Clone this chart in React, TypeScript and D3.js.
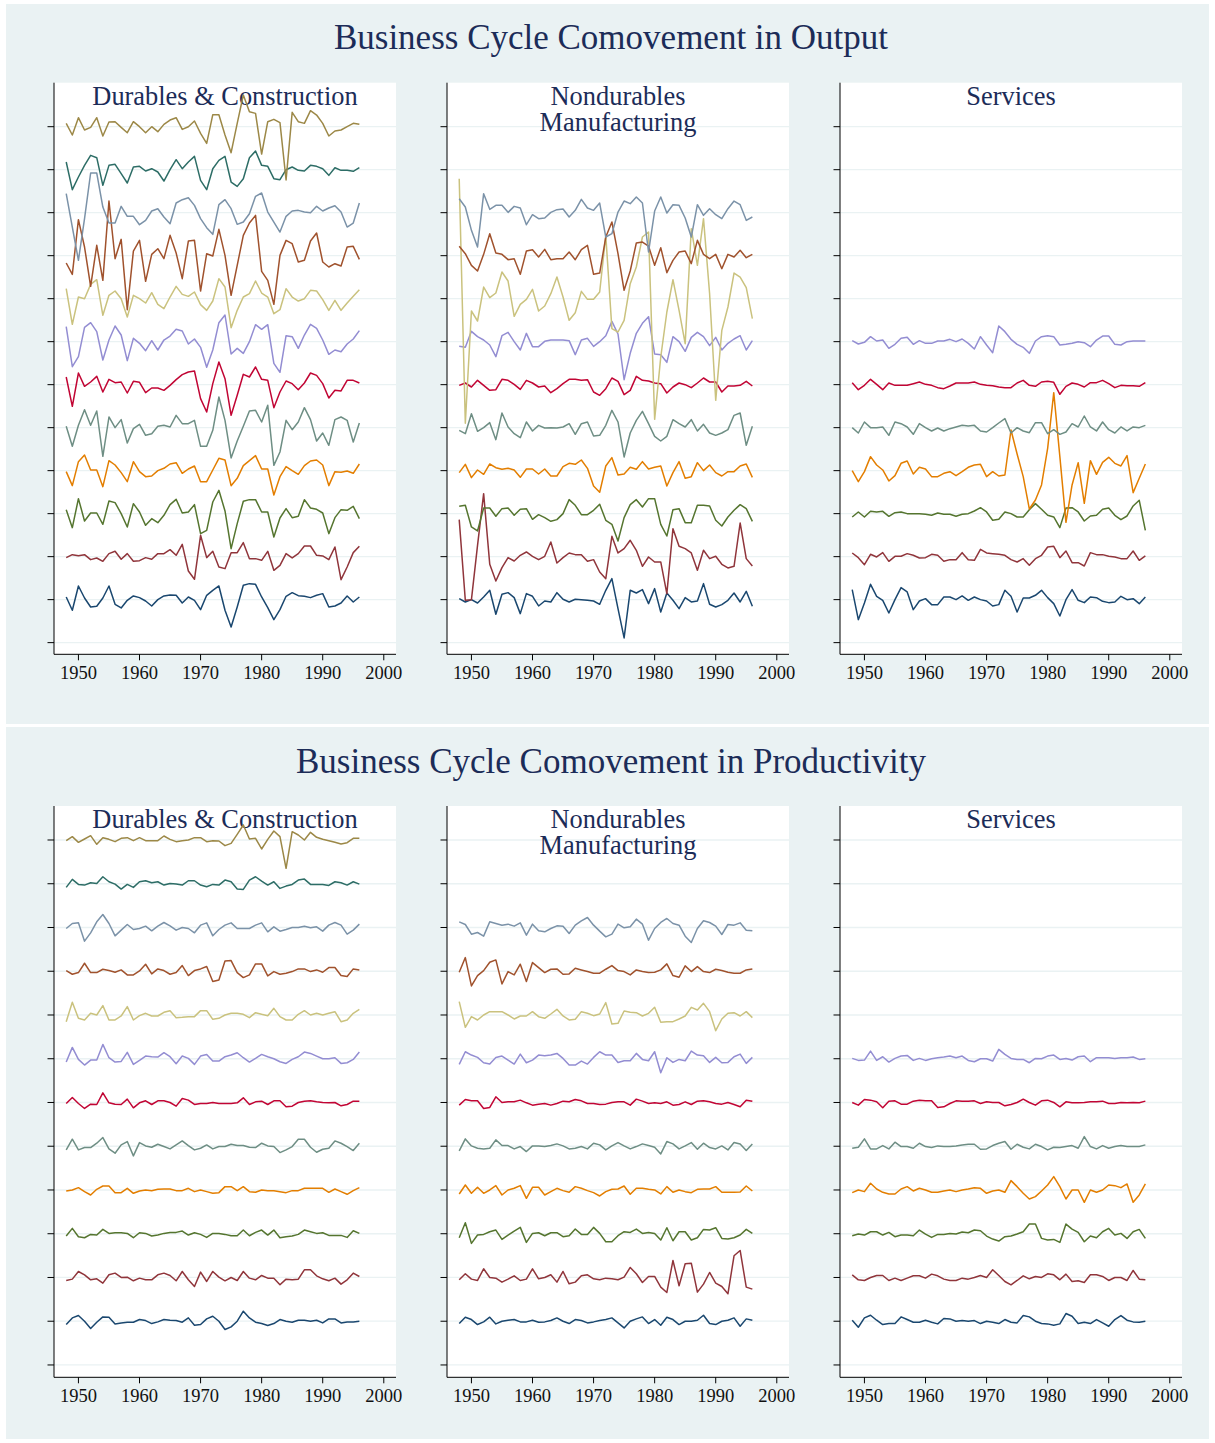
import React from 'react';
import * as d3 from 'd3';

// ---------- categories / labels ----------
const years: number[] = d3.range(1948, 1997);
const xTickValues = [1950, 1960, 1970, 1980, 1990, 2000];
const seriesColors = [
  '#1a476f', '#90353b', '#55752f', '#e37e00', '#6e8e84', '#c10534',
  '#938dd2', '#cac27e', '#a0522d', '#7b92a8', '#2d6d66', '#9c8847',
];
const panelTitles = ['Business Cycle Comovement in Output', 'Business Cycle Comovement in Productivity'];
const sectorTitleLines = [['Durables & Construction'], ['Nondurables', 'Manufacturing'], ['Services']];

// ---------- data: deviations of each industry series from its own baseline (series 1 = bottom) ----------
const outputDurables: number[][] = [
  [0.8, -3.2, 4.1, 0.5, -2.2, -2.0, 0.5, 4.1, -1.4, -2.5, -0.2, 1.1, 0.6, -0.4, -1.9, 0, 1.1, 1.4, 1.3, -1.0, 0.8, -0.2, -3.0, 1.3, 2.8, 4.1, -3.2, -8.2, -2.2, 4.3, 4.8, 4.6, 0.8, -2.4, -6.0, -3.0, 1.0, 2.1, 1.2, 1.0, 0.6, 1.3, 1.8, -2.2, -1.9, -1.0, 1.1, -0.7, 0.8],
  [-0.3, 0.6, 0.3, 0.6, -0.9, -0.4, -1.4, 0.9, 1.6, -0.8, 0.9, -1.4, -1.2, -0.3, -0.8, 0.9, 0.9, 2.1, 0.4, 3.7, -4.3, -6.8, 6.4, -0.3, 1.6, -3.1, -3.6, 1.2, 1.2, 4.2, -0.6, -0.6, -1.1, 1.6, -4.1, -2.6, 0.9, -0.4, 0.9, 3.2, 3.2, 0.4, 0.2, -0.9, 2.9, -6.9, -3.1, 1.2, 3.1],
  [1.2, -4.2, 4.5, -2.2, 0.2, 0.2, -3.2, 3.8, 3.3, 0, -4.0, 3.0, 0.5, -3.5, -1.5, -2.7, -0.5, 2.7, 4.3, 0.2, 0.5, 2.7, -6.0, -5.0, 3.5, 7.0, 0.8, -10.5, -3.0, 3.7, 4.2, 4.2, 0.5, 0.5, -7.0, -1.3, 1.5, -1.2, -0.8, 4.2, 1.7, 1.3, 0.2, -6.0, -1.2, 1.2, 1.0, 2.2, -1.5],
  [-0.3, -4.5, 2.7, 4.7, 0.2, 0.2, -4.8, 3.0, 1.7, -0.6, -3.3, 2.7, -0.3, -1.8, -1.6, 0, 0.7, 2.0, 2.4, -0.8, 0.5, 1.4, -3.3, -3.3, 0.2, 3.7, 3.2, -4.5, -2.3, 1.5, 3.0, 4.5, 0.5, 0.5, -7.3, -1.8, 1.2, 0, -1.1, 1.5, 2.9, 3.2, 1.7, -4.5, -0.3, -0.5, -0.1, -0.8, 2.0],
  [0.4, -5.6, 0.7, 5.4, 0.7, 5.0, -8.6, 3.2, 0, 2.4, -4.6, -0.3, 1.0, -2.3, -1.8, 0.4, 0.7, 0.2, 3.7, 1.2, 1.2, 2.2, -5.6, -5.6, -0.8, 9.2, 2.2, -9.1, -4.0, 0.4, 5.0, 5.2, 1.7, 6.7, -11.3, -7.3, 2.2, -0.6, 1.7, 6.0, 2.4, -4.0, -1.6, -5.3, 2.4, 3.2, 2.2, -4.3, 1.4],
  [2.3, -6.5, 3.5, -0.5, 0.8, 2.5, -2.2, 1.6, 0.6, 0.8, -2.5, 1.0, 0.7, -2.4, -1.0, -1.0, -1.7, -0.2, 1.5, 3.0, 3.8, 4.1, -4.2, -8.2, 0.3, 6.8, 1.8, -9.2, -3.2, 3.1, 2.3, 5.3, 1.6, 1.3, -6.9, -2.2, 1.1, 0.3, -1.5, 0.5, 3.5, 2.8, 0.3, -4.0, -1.7, -1.9, 1.3, 1.3, 0.5],
  [4.5, -7.5, -4.5, 4.3, 5.7, 3.0, -5.5, 0.5, 4.7, 2.0, -5.7, 1.0, -0.5, -2.7, 0.3, -2.5, 0.5, 1.7, 3.7, 3.2, -0.7, 0.8, -1.7, -7.7, -2.5, 5.7, 8.0, -3.7, -2.0, -3.5, 0, 5.1, 3.7, 5.1, -6.5, -9.2, 1.8, 1.5, -2.0, 2.0, 5.2, 4.0, 0.5, -3.8, -2.5, -3.0, -0.7, 0.8, 3.3],
  [3.0, -7.7, 0.5, 0, 4.3, 5.7, -5.0, 1.0, 2.3, 0, -5.5, 1.0, 0, -1.3, 1.8, -1.7, -3.0, 0.5, 3.7, 1.3, 0.7, 2.0, -1.8, -3.5, -0.7, 6.0, 3.5, -8.7, -3.5, 0.5, 1.5, 5.3, 1.7, 0.5, -4.5, -3.3, 3.0, 0.5, -0.7, 0, 2.5, 2.3, -0.3, -3.5, -0.5, -3.5, -1.3, 0.7, 2.7],
  [-2.2, -5.6, 10.8, 2.6, -9.2, 3.1, -7.4, 16.4, -0.9, 4.9, -16.2, 1.4, 4.6, -7.7, 0.4, 2.1, -0.9, 6.1, 0.8, -6.9, 4.4, 4.6, -10.6, 0.6, -0.1, 7.9, 0.1, -11.9, -2.9, 6.1, 9.8, 12.1, -4.7, -7.4, -14.6, 0.1, 4.6, 3.6, -1.9, -1.4, 4.4, 6.8, -1.9, -3.4, -2.4, -3.1, 2.6, 2.8, -1.1],
  [5.7, -4.3, -14.3, -1.8, 11.9, 11.9, 1.7, -3.1, -3.1, 1.9, -1.1, -1.1, -3.6, -2.3, 0.5, 1.2, -1.3, -3.3, 2.9, 3.9, 4.5, 2.2, -1.8, -4.5, -6.5, 2.4, 3.9, 1.2, -3.5, -2.8, -0.3, 4.9, 5.9, 0.2, -2.8, -5.8, -1.1, 0.5, 0.7, 0.2, 0, 1.9, 0.5, 1.4, 2.1, 0.2, -4.3, -3.1, 2.9],
  [2.3, -6.0, -2.2, 1.3, 4.3, 3.6, -4.7, 1.3, 1.6, -1.2, -4.0, 0.8, 1.0, -0.4, 0.3, -0.7, -3.4, 0, 3.0, 0.3, 2.3, 4.0, -3.2, -6.0, 0.3, 2.8, 4.0, -3.7, -5.0, -2.7, 3.6, 5.6, 1.3, 1.0, -2.7, -3.0, 0, 0.8, -0.2, -0.4, 1.3, 1.0, 0.3, -1.7, 0.6, -0.2, -0.2, -0.5, 0.6],
  [1.0, -2.5, 2.7, -1.0, -0.2, 2.7, -2.8, 1.4, 1.5, -0.2, -1.8, 1.5, 0, -1.8, 0, -1.5, 0.7, 2.0, 2.7, -0.8, 0, 1.7, -2.0, -5.0, 3.6, 3.6, -2.5, -7.8, 1.0, 9.5, 4.5, 4.0, -8.2, 1.5, 2.2, 1.2, -16.0, 4.3, 1.5, 1.0, 4.8, 3.5, 1.0, -2.8, -1.3, -1.0, 0, 1.0, 0.7],
];

const outputNondurables: number[][] = [
  [0.3, -0.7, 0, -1.0, 0.8, 2.8, -4.4, 1.6, 2.1, 0.6, -4.2, 1.8, 1.0, -1.9, -0.4, -0.7, 2.1, 0.1, -0.7, 0.1, 0, -0.2, -0.4, -1.4, 2.8, 6.3, -2.7, -11.5, 2.8, 2.0, 3.0, -1.2, 3.3, -3.7, 2.0, -0.2, -2.7, 0.6, -0.7, -0.4, 4.8, -1.4, -2.2, -1.5, -0.2, 2.0, -0.7, 2.5, -2.0],
  [11.1, -13.1, -12.9, 3.4, 18.9, -2.3, -7.3, -3.3, -0.3, -1.3, 0.4, 1.4, 0.1, -0.9, 0.1, 4.4, -1.9, -0.3, 1.1, 0.6, 0.6, -1.4, -0.9, -4.6, -6.6, 6.1, 1.1, 2.4, 4.9, 1.9, -2.9, -0.1, -1.6, -1.6, -11.1, 8.4, 3.1, 2.4, 1.1, -4.1, 1.9, -0.6, 0.1, -2.3, -3.4, -2.9, 10.1, -0.6, -2.8],
  [2.2, 2.5, -4.0, -5.2, 1.7, 1.7, -0.8, 1.5, 1.7, -0.5, 1.3, 1.5, -1.7, -0.3, -1.2, -2.3, -1.8, 0, 4.2, 2.5, -0.3, -0.3, 1.0, 2.8, -2.0, -3.2, -8.2, -1.2, 2.7, 4.2, 2.0, 4.5, 4.5, -3.2, -6.7, 1.2, 1.5, -2.7, -2.7, 2.5, 2.5, 2.3, -2.0, -3.7, -1.0, 1.0, 2.7, 1.5, -2.3],
  [-0.6, 1.9, -2.1, 0.2, -1.1, 2.0, 0.9, 0.4, 0.7, 0.2, -2.0, 0.5, 0.5, -1.0, 0.5, -1.6, -1.6, 1.2, 2.2, 1.9, 3.2, 0.7, -4.6, -6.5, 1.4, 3.9, -1.3, -1.0, 1.0, 0.4, 2.7, 0.5, 1.0, 1.4, -4.6, -0.6, 2.7, -2.3, -1.8, 2.4, 0, 1.7, -0.6, -1.6, -0.3, -0.3, 1.4, 2.0, -2.0],
  [-0.8, -1.8, 4.2, -1.1, 0, 1.5, -3.6, 4.4, 0.2, -1.8, -3.0, 1.7, -1.0, 0.7, -0.1, 0, -0.1, 0.2, 1.2, -2.0, 1.2, 1.7, -2.5, -2.3, 0.7, 5.2, 1.7, -8.8, -1.6, 2.2, 4.9, 1.2, -2.6, -4.0, -2.6, 2.4, 1.2, 0.2, 2.4, -1.0, 1.0, -1.6, -2.3, -1.6, -0.6, 3.7, 4.4, -5.3, 0.4],
  [-0.2, 0.5, -0.7, 1.3, -0.2, -1.7, -1.5, 1.6, 1.3, 0.1, -1.4, 1.3, 0.5, -0.7, -0.4, -2.4, -1.2, 0.3, 1.6, 1.6, 1.3, 1.5, -2.2, -3.2, -1.2, 2.0, 1.0, -3.0, -1.7, 2.5, 1.3, 1.1, 0.5, 0.3, -2.5, -0.7, 0.5, 0, -0.9, 0.5, 2.0, 0.8, 0.8, -2.2, -0.4, -0.4, -0.2, 1.0, -0.4],
  [-1.4, -1.7, 3.1, 1.5, 0.5, -1.0, -4.5, 1.8, 2.8, 0, -2.5, 2.5, -1.5, -1.5, 0.1, 0.5, 0.5, 0.5, 0.3, -3.9, 0.5, 1.0, -1.4, 0, 1.8, 6.1, 2.3, -11.4, -3.5, 2.5, 5.5, 7.5, -3.7, -3.9, -6.2, 1.5, 0, -2.9, 1.3, 2.8, 1.5, -1.2, 1.3, -2.5, -0.5, 0.8, 1.8, -2.5, 0.3],
  [36.0, -37.4, -3.7, -6.7, 3.5, 0.3, 1.7, 8.0, 5.3, -5.3, -1.7, -0.2, 2.8, -3.7, -2.2, 1.5, 6.5, 0.5, -6.5, -4.2, 2.2, -0.2, -0.2, 2.0, 19.0, -9.0, -10.0, -6.5, 4.5, 9.5, 18.5, 20.0, -36.2, -17.5, -4.0, 5.7, -3.5, -13.5, 21.0, 10.0, 24.0, 1.5, -30.5, -9.5, -2.5, 7.7, 6.5, 3.3, -6.0],
  [2.8, 0.6, -2.9, -4.6, 0.4, 6.6, 0.8, 0.4, -1.2, -0.9, -5.6, 1.4, 1.8, -0.4, 1.9, -1.2, -0.9, -0.9, 1.1, -1.2, 1.8, 3.1, -5.6, -5.2, 5.6, 10.1, 0.6, -10.4, -4.6, 3.8, 4.1, 2.9, -2.9, 2.4, -5.1, -1.4, 1.1, 1.4, -2.4, 4.6, 0.4, -0.9, 0.4, -3.9, 0.4, -0.4, 1.6, -0.6, 0.4],
  [4.2, 1.7, -5.3, -10.3, 5.7, 1.0, 2.2, 2.2, 0.1, 1.9, 1.4, -3.6, -0.6, -1.8, -1.6, 0.1, 0.9, 1.1, -1.3, 0.7, 4.0, 1.4, 0.7, 2.9, -7.3, -6.3, 0.2, 3.5, 2.7, 4.7, 2.9, -11.8, 0.5, 4.7, -0.1, 2.4, 2.2, -1.6, -7.3, 2.4, -0.8, 1.2, -0.6, -1.8, 1.2, 3.5, 2.4, -2.3, -1.3],
];

const outputServices: number[][] = [
  [3.0, -6.0, -1.0, 4.6, 1.0, -0.2, -4.0, 0, 3.6, 2.3, -3.0, -0.4, 0.3, -1.5, -1.5, 0.8, 0.8, 0, 1.1, -0.2, 0.8, 0, -0.4, -1.9, -1.5, 2.8, 1.0, -3.7, 0.5, 0.5, 1.3, 2.8, 0.6, -1.2, -4.9, 0, 3.0, -0.2, -0.9, 0.8, 0.6, -0.5, -0.9, -0.7, 1.0, 0, 0.3, -1.2, 0.8],
  [1.1, -0.3, -2.4, 0.7, -0.1, 1.2, -1.4, 0.1, 0.1, 0.9, 0.4, -0.4, -0.3, 0.7, 0.4, -1.4, -0.9, -0.9, 1.2, -0.9, -1.1, 2.2, 1.1, 0.9, 0.7, 0.4, -0.9, -1.6, -0.6, -2.6, -0.6, 0.4, 2.9, 3.1, -0.3, 1.7, -1.8, -1.8, -2.8, 1.2, 0.6, 0.6, 0.1, -0.1, -0.6, -0.6, 1.7, -1.1, 0.2],
  [-1.0, 0.5, -1.0, 0.7, 0.5, 0.7, -0.8, 0.3, 0.5, 0, 0, 0, -0.2, -0.5, 0.2, -0.2, -0.2, -0.8, -0.2, 0, 0.8, 1.8, 0.5, -2.0, -1.7, 0.5, 0, -1.0, -1.0, 1.2, 3.0, 1.3, -0.5, -1.0, -4.2, 1.7, 1.8, 0.5, -2.2, -0.7, -0.5, 1.3, 1.7, -0.5, -1.8, -0.7, 2.3, 4.0, -5.0],
  [0, -3.3, -0.3, 4.2, 1.7, 0.2, -3.1, -1.5, 2.2, 2.9, -1.0, 1.0, 0.5, -1.8, -1.8, -0.8, -0.3, -1.5, -0.3, 1.0, 1.7, 1.9, -1.8, -0.3, -1.6, -1.3, 12.2, 5.0, -1.8, -11.5, -8.8, -4.3, 6.7, 23.4, 4.2, -15.5, -4.3, 2.4, -9.8, 3.0, -1.1, 2.5, 4.0, 2.2, 1.4, 4.5, -6.6, -2.3, 2.0],
  [0, -1.6, 1.7, 0, 0, 0.2, -2.3, 1.7, 1.2, 0.2, -2.0, 1.2, 0, -1.0, -0.1, -1.0, -0.3, 0.2, 0.7, 0.5, 0.7, -1.0, -1.3, 0, 1.4, 2.7, -1.6, 0, -1.0, -1.5, 1.5, 1.5, -1.8, -0.6, -2.0, -1.3, 1.2, 0.2, 3.5, 0.2, -1.0, 1.7, -0.6, -1.6, 0.2, -1.0, 0.2, 0, 0.7],
  [0.6, -1.5, -0.2, 1.6, 0.1, -1.5, 0.5, -0.2, -0.2, -0.2, 0.3, 0.8, 0.1, -0.2, -0.9, -1.2, -0.4, 0.5, 0.5, 0.5, 0.8, 0.1, -0.2, -0.3, -0.7, -0.9, -0.9, 0.5, 1.3, -0.2, -0.5, 0.8, 1.0, 0.7, -2.9, -0.5, 0.5, 0.1, -0.7, 0.6, 0.6, 1.3, 0.3, -0.9, -0.2, -0.3, -0.3, -0.5, 0.6],
  [0.3, -0.7, -0.2, 1.5, 0.2, 0.5, -2.0, -0.8, 1.0, 1.3, -0.8, 0.3, -0.5, -0.5, 0.2, 0.2, 0.7, 0, 0.8, -0.5, -2.2, 1.5, -1.0, -3.3, 4.7, 3.0, 0.7, -0.8, -1.7, -3.5, 0.2, 1.5, 1.8, 1.5, -1.0, -0.8, -0.5, 0, -0.3, -1.5, 0.5, 1.7, 1.7, -0.8, -1.0, 0, 0.2, 0.2, 0.2],
];

const productivityDurables: number[][] = [
  [-1.0, 1.0, 1.7, 0, -2.2, -0.3, 1.3, 1.2, -0.8, -0.5, -0.3, -0.3, 0.5, 0.2, -0.7, -0.2, 0.5, 0.3, 0.2, -0.3, 1.0, -1.2, -1.0, 0.7, 1.5, 0, -2.5, -1.7, 0, 3.0, 1.0, -0.3, -0.7, -1.3, -0.7, 0.5, 0, -0.3, 0.3, 0.3, 0, 0.3, -0.5, 0.7, 0.7, -0.5, -0.2, -0.2, 0],
  [-0.9, -0.5, 1.8, 0.8, -0.7, -0.4, -1.7, 0.8, 1.3, 0, 0.1, -1.0, -0.2, -0.7, -0.7, 0.8, 1.3, 0.6, -1.0, 1.8, -0.7, -2.7, 1.6, -1.2, 1.8, 0.1, -1.0, 0, -0.9, 1.8, -0.2, -0.7, 0.6, -0.2, -0.2, -2.2, -0.5, -0.7, -0.5, 2.3, 2.3, 0.5, -0.4, -1.0, -0.2, -2.0, -0.7, 1.3, 0.3],
  [-0.7, 1.6, -0.9, -1.2, -0.2, -0.4, 1.3, 0.1, 0.3, 0.3, 0.1, -1.2, 0.3, 0.1, -0.7, -0.4, 0.1, 0.4, 0.4, 0.8, -0.4, 0.3, -0.2, -1.1, 0.1, 0.1, -0.2, -0.6, -0.6, 1.1, -0.6, 0.4, 1.1, -0.4, 1.1, -1.2, -0.9, -0.7, -0.2, 1.1, 0.6, 0.1, 0.3, -0.5, -0.5, -0.5, -1.1, 0.9, 0.1],
  [-0.3, 0, 0.7, -0.5, -1.5, 0.2, 1.2, 1.2, -0.8, -0.8, 0.5, -1.0, -0.3, 0, -0.2, 0.2, 0.3, 0.3, -0.2, -0.2, 0.5, -0.5, 0, -0.5, -1.0, -0.8, 1.0, 1.0, -0.2, 1.0, -0.5, -0.7, 0, -0.2, -0.2, -0.5, -0.8, -0.2, -0.2, 0.5, 0.5, 0.5, 0.5, -0.7, 0.3, -0.5, -1.3, -0.2, 0.7],
  [-1.1, 2.1, -1.1, -0.4, -0.4, 0.9, 2.6, -0.8, -2.1, 0.4, 1.4, -2.9, 1.1, 0.1, -0.3, 0.6, -0.1, -0.8, 0.4, 1.6, 0.2, -1.1, -0.6, 0.4, -0.8, -0.1, -0.1, 0.6, 0.2, 0.2, -0.3, -0.4, 0.9, 0.1, -0.1, -1.9, -1.1, -0.1, 2.1, 2.1, -0.3, -1.8, -0.9, -0.6, 1.6, 0.9, -0.1, -1.3, 0.9],
  [-0.3, 1.5, -0.3, -1.8, -0.5, -0.6, 2.9, -0.1, -0.5, -0.6, 1.0, -1.6, -0.1, 0.5, -0.6, 0.5, 0.5, 0, -1.1, 1.2, 0.7, -0.6, -0.3, -0.3, 0, -0.3, -0.3, -0.3, -0.1, 1.4, -0.6, 0.2, 0.4, -0.6, 0.5, 0.5, -1.3, -1.1, 0, 0.4, 0.5, 0.2, 0, -0.1, 0, -1.0, -0.6, 0.4, 0.4],
  [-1.0, 3.4, -0.2, -1.9, -0.4, -0.4, 4.3, 0.3, -1.0, -0.8, 1.9, -1.7, -0.5, 0.8, 0.6, 0.5, 1.8, 0.6, -1.5, 0.8, 0.1, -1.7, 0.8, 1.3, -0.7, -0.7, 0.6, 1.1, 1.8, 0.3, -1.0, 0.1, 1.3, 0.6, 0, -0.9, -1.4, -0.2, 0.6, 2.0, 1.6, 0.8, 0, 0, 0.3, -1.4, -1.2, -0.2, 2.0],
  [-2.0, 3.8, -1.0, -1.5, 0.5, 0, 2.8, -1.5, -1.5, -0.3, 2.5, -1.5, -0.2, 0.5, -0.3, -0.3, 0.8, 1.3, -0.8, -0.7, -0.5, -0.5, 1.3, 1.3, -1.3, -1.0, 0, 0.5, 0.5, 0.2, -0.8, 0.7, 0.2, -0.2, 2.0, -0.5, -1.5, -1.5, 0.2, 1.3, 0, 0.5, 0, 0.5, 1.0, -2.0, -1.5, 0.5, 1.7],
  [0.2, -0.9, -0.4, 2.4, -0.4, -0.4, 0.6, 0.2, -0.3, 0.4, -1.1, -1.1, 0.1, 2.1, -0.8, 0.7, 0.2, -0.9, -0.4, 1.7, -1.3, 0.2, 0.7, 1.4, -3.1, -2.6, 3.1, 3.2, -0.4, -1.9, -1.1, 2.2, 2.2, -1.4, -0.1, -0.9, -0.6, -0.1, 0.7, 0.7, -0.1, 0.4, -0.3, 1.1, 1.1, -1.3, -1.6, 0.7, 0.4],
  [-0.3, 1.2, 1.4, -4.1, -1.6, 1.7, 3.9, 1.2, -2.5, -0.8, 0.9, -0.6, -0.3, 0.4, -1.0, 0.4, 1.5, 0.5, -0.8, 0, -0.3, -1.6, 0.7, 1.4, -2.5, -0.6, 0.7, 1.4, -0.3, -0.3, -0.3, 0.7, 1.4, -1.3, 0.2, -1.1, -0.6, 0, 0, 0.4, -0.1, 0.2, -1.1, 0.7, 1.5, 0.7, -2.0, -0.8, 1.0],
  [-1.1, 1.3, -0.2, -0.4, 0.3, 0.1, 2.1, 0.6, -0.1, -1.6, -0.2, -1.1, 0.6, 0.9, 0.3, 0.6, -0.4, 0.1, -0.1, -0.4, 0.9, 0.9, -0.4, -0.9, -0.2, -0.4, 1.1, 0.6, -1.6, -1.7, 1.1, 2.1, 0.8, -0.4, 0.6, -1.4, -0.7, -0.2, 1.1, 1.4, -0.2, -0.2, -0.2, -0.5, 0.6, 0.3, -0.4, 0.6, -0.1],
  [-0.2, 1.0, -0.7, 0.3, 1.3, -1.3, 0.7, 0.2, -0.5, 0.5, 0.7, -0.2, 0.7, -0.2, -0.2, -0.2, 1.2, 0.2, -0.5, -0.2, 0, 0.7, 0.7, -0.5, -0.2, -0.3, -1.7, -1.0, 1.7, 4.5, 0.3, 0.5, -2.7, 0.2, 2.7, 1.0, -8.5, 2.5, 1.5, 0, 2.3, 0.8, 0.2, -0.2, -0.7, -1.2, -0.8, 0.5, 0.5],
];

const productivityNondurables: number[][] = [
  [-0.7, 1.2, 0.5, -1.0, -0.2, 1.2, -0.8, 0, 0.3, 0.5, -0.2, -0.2, 0.3, -0.3, -0.2, 0.2, 1.0, 0, -0.7, 0.5, 0.2, -0.5, -0.2, 0.2, 0.5, 1.0, -0.5, -2.0, 0, 0.7, 1.3, -0.7, 0.5, -1.2, 1.2, 0.5, -1.0, 0, 0, 0.3, 1.8, -0.7, -1.0, 0, 0.3, 1.0, -1.5, 0.7, 0.3],
  [-0.7, 1.1, -0.5, -0.9, 2.6, 0, -0.2, -1.4, -0.5, 0.5, -0.9, -0.5, 2.6, -0.4, 0, 0.8, -1.4, 1.8, -1.9, -1.4, 0.5, 0.8, -0.4, -0.7, -0.2, -0.4, -0.7, 0.1, 3.0, 1.1, -1.5, 0.3, 0.3, -2.9, -4.5, 5.1, -2.5, 4.1, 4.3, -4.4, -2.0, 1.5, -1.7, -2.7, -4.9, 6.5, 8.1, -2.9, -3.5],
  [-1.2, 3.3, -2.9, -0.4, -0.2, 0.6, 1.1, -1.7, -0.4, 0.8, 1.9, -2.6, 0.1, 0.3, -0.6, 0.3, 0.3, -0.9, -0.6, 1.4, -0.2, -0.2, 1.9, 0.1, -2.4, -2.4, -0.6, 0.6, 0.4, 1.4, 0.1, 0.4, 0.1, -1.9, 1.8, -2.1, 0.6, 0.6, -1.9, -1.2, 1.3, 1.1, 1.8, -1.4, -1.6, -1.2, -0.4, 1.3, 0.1],
  [-1.2, 1.5, -1.0, 0.8, -1.0, 0, 1.3, -1.5, 0, 0.5, 1.3, -2.5, 0.8, 0.8, -1.5, -0.5, 0.5, -0.2, -0.7, 1.0, 0.5, -0.2, -0.8, -1.8, -0.5, 0.2, 0.3, 1.2, -1.3, 0.5, 0.5, 0.2, 0, -1.2, 1.0, -0.7, 0, -0.5, -0.8, 0.2, 0.3, 0.3, 1.0, -0.7, -0.7, -0.7, -0.6, 1.2, -0.3],
  [-1.4, 2.2, 0.1, -0.6, -0.8, -0.6, 1.9, 0.2, 0.2, -0.8, -0.1, -1.6, 0.1, 0.1, -0.1, 0.2, 0.7, 0.1, -0.8, -0.6, -0.1, -0.8, 0.9, 0.4, -1.1, 0.1, 1.1, 0.1, -0.8, -0.1, 0.7, 0.2, -0.3, -2.3, 1.4, 0.7, -0.8, 0.1, 1.1, -0.9, 0.9, -0.4, -0.8, 0.1, -1.1, 1.1, 0.7, -1.3, 0.7],
  [-0.8, 0.9, 0.5, 0.5, -1.8, -1.5, 1.7, 0, 0.2, 0.2, 0.7, -0.1, -0.8, -0.5, -0.3, -0.8, -0.3, 0.4, 0.2, 0.9, 0.5, -0.3, -0.3, -0.6, -0.5, 0, 0.2, 0.2, -0.8, 1.0, 0.4, -0.3, -0.1, -0.3, 0.2, -0.8, -0.6, 0.2, -0.6, 0.4, 0.5, 0.2, -0.3, -0.5, 0, -0.6, -1.3, 0.7, 0.4],
  [-1.7, 2.1, 1.1, 0.4, -1.2, -1.6, 0.4, 0.8, -0.4, -1.6, 1.4, -1.2, -0.4, 1.1, 0.9, 1.1, 1.6, 0.1, -1.9, -1.9, -0.7, -1.6, 0.4, 2.1, 1.1, 1.1, -1.1, -0.6, -0.6, 1.6, -0.2, -0.6, 2.1, -4.2, 0.3, -1.1, -0.2, -0.6, 2.3, 1.1, 0.9, -1.1, 0.4, -1.2, -1.1, 0.6, 1.4, -1.4, 0.4],
  [4.0, -3.7, -0.5, -1.5, 0, 1.0, 1.0, 1.0, 0, -1.2, -0.3, -0.3, 1.0, -0.5, -1.0, 0.3, 1.7, -0.3, -1.5, -1.3, 1.0, 0.5, -0.2, 0.3, 3.7, -2.7, -2.5, 1.2, 0.8, 0.7, -0.3, 0.5, 2.3, -2.2, -2.0, -2.0, -1.2, -0.3, 2.3, 1.5, 3.5, 1.0, -4.7, -1.2, 0.5, 0.7, -0.3, 1.0, -0.8],
  [-0.3, 4.1, -4.4, -1.3, 0.2, 2.7, 3.4, -3.8, -0.1, -1.1, 2.1, -3.1, 2.6, 1.1, -0.4, 0.6, 0.7, -0.9, -0.8, 0.9, 0.4, -0.1, -0.6, -0.6, 0.6, 1.7, 0.2, -0.1, -1.1, 0.4, -0.1, -0.4, -0.3, 0.4, 2.2, -1.3, -1.8, 1.6, -0.1, 1.4, -0.1, -0.4, 0.6, 0.2, -0.3, -0.6, -0.6, 0.4, 0.7],
  [1.7, 0.9, -2.0, -1.5, -2.6, 1.7, 1.2, 0.7, 1.0, 0.4, 1.4, -2.3, 1.0, -1.0, -1.3, -0.3, 0.5, 0.4, -1.8, 0.7, 2.0, 3.0, 0.7, -1.1, -2.8, -2.0, 1.0, -0.1, 0.2, 2.5, 1.0, -3.8, -0.3, 1.5, 2.7, 1.2, 0.7, -2.6, -4.5, -0.3, 2.0, 1.5, 0.4, -2.1, 0.9, 0.7, 1.4, -0.8, -1.0],
];

const productivityServices: number[][] = [
  [0.3, -1.8, 1.0, 1.8, 0.3, -1.0, -0.7, -0.7, 1.3, 0.5, -0.3, -0.3, 0.3, -0.3, -0.8, 0.8, 0.7, 0, 0.2, 0, 0.2, -0.7, 0, -0.3, -0.7, 0.5, -0.3, -0.5, 1.7, 1.3, 0, -0.7, -0.8, -1.2, -0.8, 2.3, 1.5, -0.7, -0.3, -0.7, 0.5, -0.5, -1.5, 0.5, 1.7, 0.3, -0.2, -0.3, 0],
  [0.8, -0.7, -0.9, 0, 0.6, 0.6, -0.9, -0.2, -0.9, -0.2, 0.5, 0.5, -0.2, 1.0, 0.5, -0.5, -0.9, -0.9, -0.2, -0.5, 0, 0.6, 0, 2.3, 0.6, -1.2, -2.2, -0.9, 0.5, -0.4, 0.3, 0, 1.1, 0.8, -0.7, 1.0, -1.2, -1.0, -1.5, 0.8, 0.8, 0.3, -0.9, 0, 0, -0.9, 2.1, -0.5, -0.7],
  [-0.6, -0.1, -0.4, 0.6, 0.6, -0.4, 0.4, -0.9, -0.4, -0.4, -0.6, 1.1, -0.1, -1.1, -0.2, -0.2, 0.1, -0.1, 0.5, 0.3, 1.1, 0.9, -0.7, -1.6, -2.2, -0.9, -0.7, -0.1, 0.6, 2.9, 2.9, -1.4, -1.9, -1.7, -2.6, 2.9, 1.4, 0.4, -2.4, -0.7, -1.2, 0.6, 1.6, -0.4, 0.1, -1.4, 0.6, 1.3, -1.4],
  [-0.8, 0, -0.5, 2.0, 0.3, -0.7, -1.2, -1.2, 0.3, 1.0, -0.3, 0.5, 0, -0.7, -0.7, -0.3, 0, -0.5, 0, 0.3, 0.7, 0.5, -1.0, -0.3, 0, -0.7, 2.8, 1.0, -1.0, -2.7, -2.0, -0.3, 1.5, 4.0, 1.0, -2.7, 0, 0, -3.7, 0, -0.7, 0, 1.5, 1.3, 0.7, 1.8, -3.7, -1.5, 1.8],
  [-0.6, -0.3, 2.2, -0.8, -0.8, 0.2, -0.8, 1.2, -0.1, -0.1, -0.6, 0.9, -0.1, -0.4, 0.1, -0.1, -0.1, 0.1, 0.4, 0.6, 0.6, -0.9, -0.8, 0.2, 0.9, 1.4, -0.9, 0.6, -0.3, -0.8, 0.6, -0.1, -1.1, -0.3, -0.4, -0.1, 0.2, -0.6, 2.9, -0.1, -0.8, 0.2, -0.6, -0.1, 0.2, -0.1, -0.1, -0.1, 0.4],
  [0, -0.8, 0.9, 0.7, 0.2, -1.6, 0.4, 0.5, -0.5, -0.5, 0.4, 0.7, 0.5, 0.5, -1.5, -1.3, -0.3, 0.5, 0.4, 0.4, 0.5, -0.3, 0.2, 0, 0, -1.0, -0.6, 0, 1.0, 0, -0.8, 0.5, 0.7, 0, -1.3, 0.2, -0.1, -0.1, 0, 0.2, 0.2, 0.4, -0.3, -0.3, 0, -0.1, 0, -0.1, 0.4],
  [0.1, -0.5, -0.4, 2.3, -0.5, 0.6, -1.0, 0.1, 0.8, 1.0, -0.5, 0.1, -0.5, 0, 0.3, 0.5, 0.8, 0.3, 0.8, -0.5, -0.9, 0, 0, -0.7, 2.8, 1.3, 0.1, -0.2, -0.2, -1.2, 0.1, 0, 0.8, 1.1, -0.2, 0.1, -0.4, 0.6, 0.8, -0.9, 0.3, 0.3, 0.3, 0.1, 0.3, 0.3, 0.5, -0.2, 0],
];

// ---------- layout ----------
const W = 1215;
const H = 1443;
const FONT = '"Liberation Serif", "Times New Roman", Times, serif';
const BG = '#eaf2f3';
const TITLE_COLOR = '#1c2c58';

const panelGeoms = [
  { bgY: 4, bgH: 720, titleY: 49.4, top: 82.7, bottom: 654.3, yMin: -3.5, yMax: 168.0, step: 12.9 },
  { bgY: 727, bgH: 712, titleY: 772.7, top: 806, bottom: 1377.3, yMin: -3.7, yMax: 167.7, step: 13.125 },
];
const sectorLeft = [54, 447, 840];
const sectorWidth = 342;
const gridCount = 13;

export default function App() {
  const panelsData = [
    [outputDurables, outputNondurables, outputServices],
    [productivityDurables, productivityNondurables, productivityServices],
  ];

  return (
    <svg
      width={W}
      height={H}
      viewBox={`0 0 ${W} ${H}`}
      style={{ position: 'absolute', left: 0, top: 0, background: '#ffffff' }}
    >
      {panelGeoms.map((g, p) => {
        const y = d3.scaleLinear().domain([g.yMin, g.yMax]).range([g.bottom, g.top]);
        const gridVals = d3.range(gridCount).map((k) => k * g.step);
        return (
          <g key={`panel-${p}`}>
            <rect x={6} y={g.bgY} width={W - 12} height={g.bgH} fill={BG} />
            <text
              x={611}
              y={g.titleY}
              textAnchor="middle"
              fontFamily={FONT}
              fontSize={35}
              fill={TITLE_COLOR}
            >
              {panelTitles[p]}
            </text>
            {sectorLeft.map((x0, j) => {
              const x = d3.scaleLinear().domain([1946, 2002]).range([x0, x0 + sectorWidth]);
              const seriesSet = panelsData[p][j];
              const cx = x0 + sectorWidth / 2;
              return (
                <g key={`sector-${p}-${j}`}>
                  <rect x={x0} y={g.top} width={sectorWidth} height={g.bottom - g.top} fill="#ffffff" />
                  {gridVals.map((v, k) => (
                    <line
                      key={`grid-${k}`}
                      x1={x0}
                      x2={x0 + sectorWidth}
                      y1={y(v)}
                      y2={y(v)}
                      stroke={BG}
                      strokeWidth={1.3}
                    />
                  ))}
                  {/* y axis */}
                  <line x1={x0} x2={x0} y1={g.top} y2={g.bottom} stroke="#000" strokeWidth={1} />
                  {gridVals.map((v, k) => (
                    <line key={`yt-${k}`} x1={x0 - 6.5} x2={x0} y1={y(v)} y2={y(v)} stroke="#000" strokeWidth={1} />
                  ))}
                  {/* x axis */}
                  <line x1={x0} x2={x0 + sectorWidth} y1={g.bottom} y2={g.bottom} stroke="#000" strokeWidth={1} />
                  {xTickValues.map((t) => (
                    <g key={`xt-${t}`}>
                      <line x1={x(t)} x2={x(t)} y1={g.bottom} y2={g.bottom + 6} stroke="#000" strokeWidth={1} />
                      <text
                        x={x(t)}
                        y={g.bottom + 24.3}
                        textAnchor="middle"
                        fontFamily={FONT}
                        fontSize={18.5}
                        fill="#111"
                      >
                        {t}
                      </text>
                    </g>
                  ))}
                  {/* sector title (one text element, lines as tspans) */}
                  <text
                    x={cx}
                    y={g.top + 22}
                    textAnchor="middle"
                    fontFamily={FONT}
                    fontSize={26.4}
                    fill={TITLE_COLOR}
                  >
                    {sectorTitleLines[j].map((line, li) => (
                      <tspan key={`st-${li}`} x={cx} dy={li === 0 ? 0 : 25.9}>
                        {line}
                      </tspan>
                    ))}
                  </text>
                  {/* series */}
                  {seriesSet.map((vals, s) => {
                    const offset = (s + 1) * g.step;
                    const path = d3
                      .line<number>()
                      .x((_, i) => x(years[i]))
                      .y((v) => y(offset + v))(vals);
                    return (
                      <path
                        key={`s-${s}`}
                        d={path || ''}
                        fill="none"
                        stroke={seriesColors[s]}
                        strokeWidth={1.5}
                        strokeLinejoin="round"
                      />
                    );
                  })}
                </g>
              );
            })}
          </g>
        );
      })}
    </svg>
  );
}
